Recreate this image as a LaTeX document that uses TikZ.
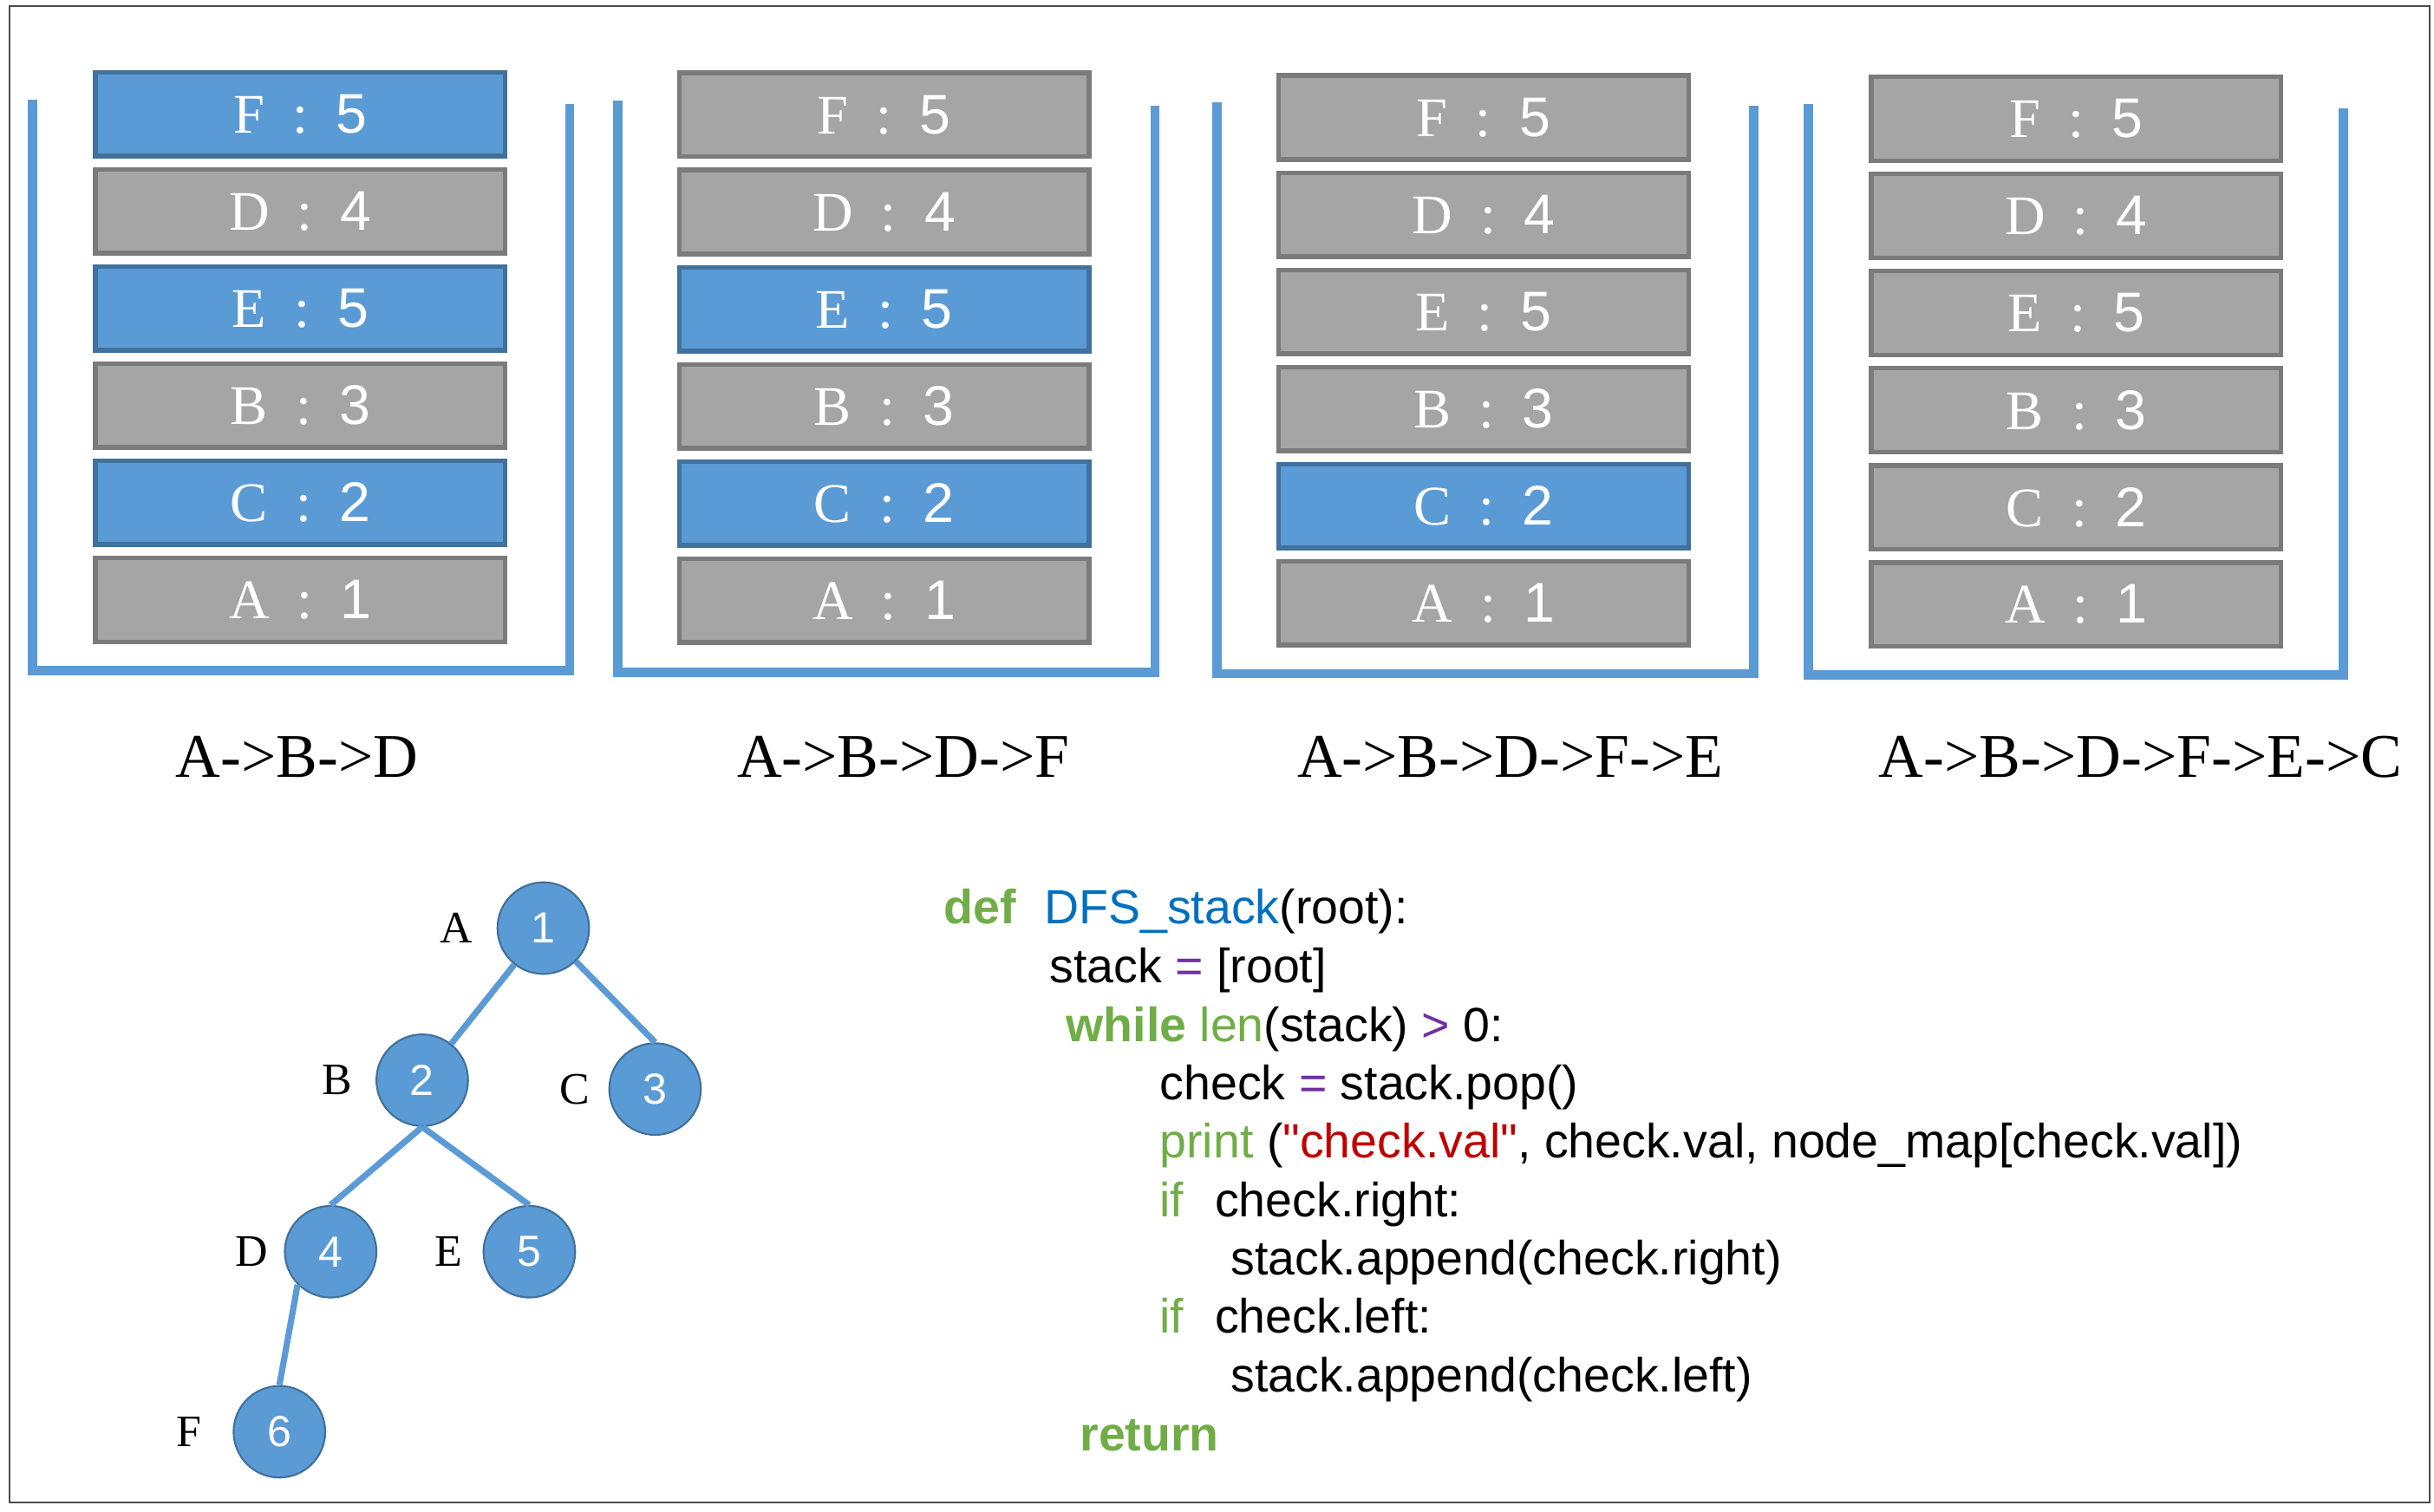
\documentclass[tikz,border=0pt]{standalone}
\usepackage{fontspec}
\setmainfont{Liberation Serif}
\setsansfont{Liberation Sans}
\usetikzlibrary{positioning}
\definecolor{cellblue}{HTML}{5B9BD5}
\definecolor{cellblueline}{HTML}{41719C}
\definecolor{cellgray}{HTML}{A5A5A5}
\definecolor{cellgrayline}{HTML}{7B7B7B}
\definecolor{kwgreen}{HTML}{70AD47}
\definecolor{fnblue}{HTML}{0070C0}
\definecolor{oppurple}{HTML}{7030A0}
\definecolor{strred}{HTML}{C00000}
\newcommand{\kv}[2]{#1\enspace:\enspace\textsf{#2}}
\tikzstyle{cell} = [rectangle, draw=cellgrayline, fill=cellgray, line width=3pt, minimum width=264pt, minimum height=54pt, text=white, font=\fontsize{36}{40}\selectfont]
\tikzstyle{cellhot} = [cell, draw=cellblueline, fill=cellblue]
\tikzstyle{bucket} = [draw=cellblue, line width=6pt]
\tikzstyle{order} = [anchor=base, inner sep=0pt, font=\fontsize{40}{44}\selectfont]
\tikzstyle{vertex} = [circle, draw=cellblueline, fill=cellblue, line width=1.2pt, minimum size=59pt, inner sep=0pt, text=white, font=\sffamily\fontsize{28}{30}\selectfont]
\tikzstyle{tag} = [inner sep=0pt, font=\fontsize{29}{32}\selectfont]
\tikzstyle{branch} = [draw=cellblue, line width=4pt]
\tikzstyle{code} = [anchor=base west, inner sep=0pt, font=\sffamily\fontsize{31}{34}\selectfont]
\tikzstyle{frame} = [draw=black!70, line width=1pt]

\begin{document}
\begin{tikzpicture}[x=1pt, y=1pt, node distance=62.6pt]

            \useasboundingbox (0,0) rectangle (1568,974);
            \draw [frame] (6,6) rectangle (1565,970);

            % stack 1
            \node (s1f) [cellhot] at (193.5,900.5) {\kv{F}{5}};
            \node (s1d) [cell, below of=s1f] {\kv{D}{4}};
            \node (s1e) [cellhot, below of=s1d] {\kv{E}{5}};
            \node (s1b) [cell, below of=s1e] {\kv{B}{3}};
            \node (s1c) [cellhot, below of=s1b] {\kv{C}{2}};
            \node (s1a) [cell, below of=s1c] {\kv{A}{1}};
            \draw [bucket] (21,910) -- (21,542) -- (367,542) -- (367,907);
            \node (p1) [order] at (191.5,473) {A->B->D};

            % stack 2
            \node (s2f) [cell] at (569.5,900) {\kv{F}{5}};
            \node (s2d) [cell, below of=s2f] {\kv{D}{4}};
            \node (s2e) [cellhot, below of=s2d] {\kv{E}{5}};
            \node (s2b) [cell, below of=s2e] {\kv{B}{3}};
            \node (s2c) [cellhot, below of=s2b] {\kv{C}{2}};
            \node (s2a) [cell, below of=s2c] {\kv{A}{1}};
            \draw [bucket] (398,909) -- (398,541) -- (744,541) -- (744,906);
            \node (p2) [order] at (582,473) {A->B->D->F};

            % stack 3
            \node (s3f) [cell] at (955.7,898.3) {\kv{F}{5}};
            \node (s3d) [cell, below of=s3f] {\kv{D}{4}};
            \node (s3e) [cell, below of=s3d] {\kv{E}{5}};
            \node (s3b) [cell, below of=s3e] {\kv{B}{3}};
            \node (s3c) [cellhot, below of=s3b] {\kv{C}{2}};
            \node (s3a) [cell, below of=s3c] {\kv{A}{1}};
            \draw [bucket] (784,908) -- (784,540) -- (1129.6,540) -- (1129.6,906);
            \node (p3) [order] at (973,473) {A->B->D->F->E};

            % stack 4
            \node (s4f) [cell] at (1337.5,897.5) {\kv{F}{5}};
            \node (s4d) [cell, below of=s4f] {\kv{D}{4}};
            \node (s4e) [cell, below of=s4d] {\kv{E}{5}};
            \node (s4b) [cell, below of=s4e] {\kv{B}{3}};
            \node (s4c) [cell, below of=s4b] {\kv{C}{2}};
            \node (s4a) [cell, below of=s4c] {\kv{A}{1}};
            \draw [bucket] (1165,907) -- (1165,539) -- (1509.5,539) -- (1509.5,904);
            \node (p4) [order] at (1379,473) {A->B->D->F->E->C};

            % tree
            \node (n1) [vertex] at (350,376) {1};
            \node (n2) [vertex] at (272,278) {2};
            \node (n3) [vertex] at (422,272.3) {3};
            \node (n4) [vertex] at (213,167.5) {4};
            \node (n5) [vertex] at (341,167.5) {5};
            \node (n6) [vertex] at (180,51.5) {6};

            \node (ta) [tag, left=15pt of n1] {A};
            \node (tb) [tag, left=15pt of n2] {B};
            \node (tc) [tag, left=12pt of n3] {C};
            \node (td) [tag, left=10pt of n4] {D};
            \node (te) [tag, left=13pt of n5] {E};
            \node (tf) [tag, left=20pt of n6] {F};

            \draw [branch] (n1) -- (n2);
            \draw [branch] (n1) -- (n3.north);
            \draw [branch] (n2.south) -- (n4.north);
            \draw [branch] (n2.south) -- (n5.north);
            \draw [branch] (n4.south west) -- (n6.north);

            % code
            \node (code1) [code] at (608,379) {\textcolor{kwgreen}{\bfseries def}\hspace{18pt}\textcolor{fnblue}{DFS\_stack}(root):};
            \node (code2) [code] at (676,341) {stack \textcolor{oppurple}{=} [root]};
            \node (code3) [code] at (686.6,303) {\textcolor{kwgreen}{\bfseries while} \textcolor{kwgreen}{len}(stack) \textcolor{oppurple}{>} 0:};
            \node (code4) [code] at (747,265.5) {check \textcolor{oppurple}{=} stack.pop()};
            \node (code5) [code] at (747,228) {\textcolor{kwgreen}{print} (\textcolor{strred}{\textquotedbl check.val\textquotedbl}, check.val, node\_map[check.val])};
            \node (code6) [code] at (747,190) {\textcolor{kwgreen}{if}\hspace{20pt}check.right:};
            \node (code7) [code] at (792.6,152.5) {stack.append(check.right)};
            \node (code8) [code] at (747,115) {\textcolor{kwgreen}{if}\hspace{20pt}check.left:};
            \node (code9) [code] at (792.6,77) {stack.append(check.left)};
            \node (code10) [code] at (695.5,39.4) {\textcolor{kwgreen}{\bfseries return}};

        \end{tikzpicture}
\end{document}
